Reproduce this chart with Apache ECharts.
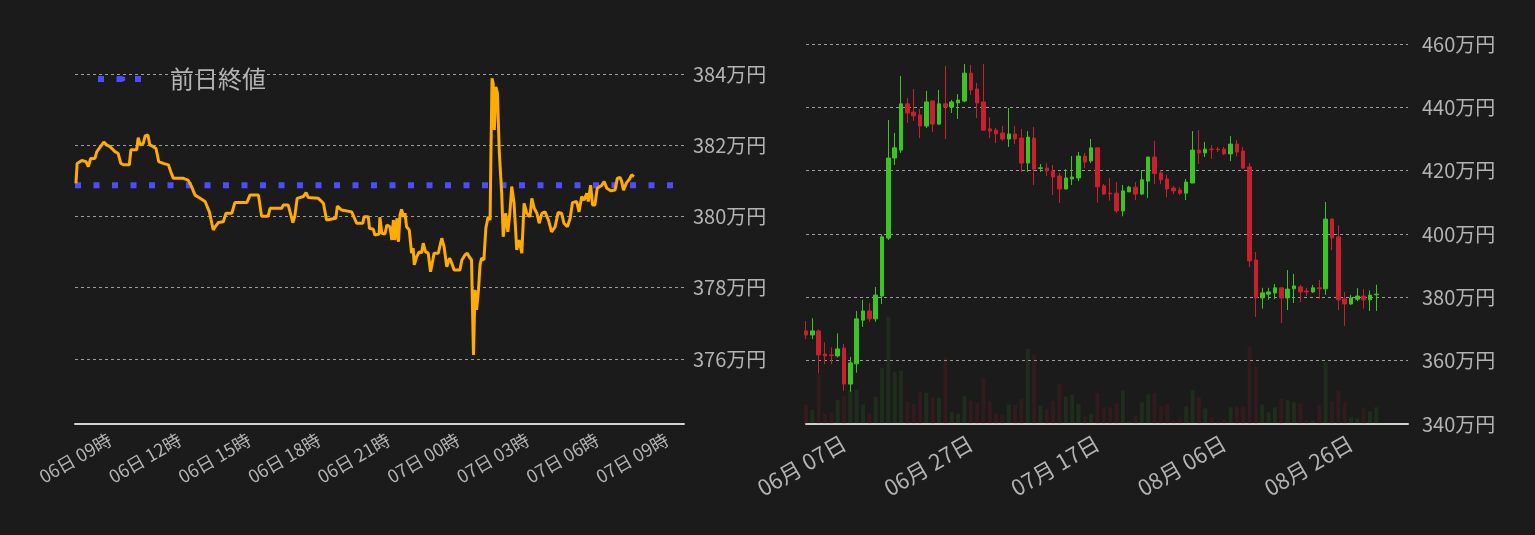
<!DOCTYPE html>
<html><head><meta charset="utf-8">
<script src="https://cdn.jsdelivr.net/npm/echarts@6/dist/echarts.min.js"></script>
<style>html,body{margin:0;padding:0;background:#1b1b1b}#c{width:1535px;height:535px}</style>
</head><body><div id="c"></div>
<script>
// ---- Intraday (left) : minutes since 06日 00:00, price in 万円 ----
const intradayMinutes = [452,455,467,478,484,490,501,506,514,524,531,540,553,561,568,576,590,594,609,613,618,626,631,638,643,652,659,666,678,691,697,704,730,742,751,760,773,786,797,807,812,820,833,840,855,863,894,902,924,932,949,954,984,988,1001,1013,1018,1024,1040,1047,1053,1079,1092,1100,1124,1128,1139,1165,1178,1194,1197,1208,1211,1221,1225,1236,1238,1243,1251,1256,1264,1269,1273,1277,1282,1286,1290,1294,1299,1303,1307,1314,1320,1324,1327,1333,1340,1346,1350,1356,1363,1369,1375,1378,1389,1398,1404,1411,1418,1424,1430,1445,1450,1458,1464,1469,1475,1480,1484,1488,1493,1497,1501,1507,1512,1518,1523,1525,1528,1531,1534,1538,1542,1547,1553,1557,1563,1569,1574,1579,1585,1592,1598,1605,1611,1618,1626,1631,1637,1644,1650,1657,1665,1674,1682,1691,1699,1708,1714,1723,1730,1736,1747,1753,1760,1766,1773,1777,1783,1788,1794,1800,1812,1818,1825,1835,1846,1852,1859,1863,1868,1876,1883,1889,1895];
const intradayPrices = [380.93,381.49,381.57,381.54,381.40,381.63,381.63,381.82,381.94,382.09,382.01,381.96,381.82,381.77,381.49,381.45,381.45,381.87,381.87,382.21,382.01,382.05,382.26,382.29,382.01,381.96,381.91,381.54,381.49,381.45,381.26,381.07,381.07,381.02,380.84,380.60,380.51,380.42,380.13,379.62,379.71,379.83,379.85,380.09,380.09,380.39,380.39,380.60,380.60,380.01,380.01,380.23,380.23,380.32,380.32,379.83,380.01,380.51,380.56,380.67,380.53,380.51,380.37,379.90,379.95,380.29,380.18,380.13,379.81,379.81,379.99,379.99,379.67,379.64,379.48,379.51,379.98,379.53,379.51,379.76,379.71,379.34,379.90,379.34,379.95,379.29,380.04,380.20,379.99,380.09,379.71,379.62,378.97,379.11,378.64,378.87,379.01,378.98,379.25,379.01,378.97,378.45,378.78,378.97,378.97,379.39,379.15,378.59,378.83,378.69,378.50,378.50,378.78,378.92,378.97,378.87,378.78,376.11,377.94,377.38,377.94,378.64,378.83,378.78,379.67,379.99,379.90,381.59,383.88,383.74,382.43,383.64,383.46,381.77,380.65,379.43,380.09,379.57,380.09,380.84,380.37,379.06,379.34,378.97,380.37,380.09,379.99,380.51,380.23,380.09,379.81,380.09,380.13,379.90,379.57,379.71,380.11,380.09,379.81,379.71,379.95,380.39,380.42,380.13,380.56,380.46,380.65,380.42,380.88,380.32,380.32,380.79,380.88,380.98,380.79,380.72,380.74,381.07,381.10,381.00,380.74,380.95,381.04,381.17,381.12];
const prevClose = 380.88;
const intradayTickMinutes = [540,720,900,1080,1260,1440,1620,1800,1980];
const leftPriceTicks = [376,378,380,382,384];

// ---- Daily (right) ----
const dailyDates = ['06-01','06-02','06-03','06-04','06-05','06-06','06-07','06-08','06-09','06-10','06-11','06-12','06-13','06-14','06-15','06-16','06-17','06-18','06-19','06-20','06-21','06-22','06-23','06-24','06-25','06-26','06-27','06-28','06-29','06-30',
'07-01','07-02','07-03','07-04','07-05','07-06','07-07','07-08','07-09','07-10','07-11','07-12','07-13','07-14','07-15','07-16','07-17','07-18','07-19','07-20','07-21','07-22','07-23','07-24','07-25','07-26','07-27','07-28','07-29','07-30','07-31',
'08-01','08-02','08-03','08-04','08-05','08-06','08-07','08-08','08-09','08-10','08-11','08-12','08-13','08-14','08-15','08-16','08-17','08-18','08-19','08-20','08-21','08-22','08-23','08-24','08-25','08-26','08-27','08-28','08-29','08-30'];
const dailyOpen  = [369.4,368.1,369.4,362.1,361.8,361.5,364.0,352.6,359.0,372.8,375.7,373.2,380.4,398.7,424.0,426.5,441.1,438.5,437.6,434.1,442.0,434.7,441.1,440.1,441.4,442.0,450.8,445.8,441.7,433.2,432.8,431.9,430.0,431.6,430.3,422.4,430.3,420.7,420.8,419.9,418.3,414.2,417.4,417.7,424.6,423.1,427.2,415.2,412.9,412.9,407.3,413.3,414.8,412.6,416.7,424.3,419.3,417.4,414.5,413.9,412.9,416.1,426.5,425.6,426.8,426.8,426.8,425.3,428.4,426.2,421.2,391.8,379.8,381.0,381.4,383.0,379.8,382.7,383.3,382.0,381.7,383.0,382.7,404.7,399.1,379.5,377.9,379.4,380.4,379.2,380.8];
const dailyClose = [368.1,369.4,361.8,361.5,361.6,363.7,352.6,359.3,373.2,375.7,373.2,380.7,399.1,424.0,427.2,441.1,438.2,437.3,434.1,441.7,434.7,441.1,440.1,441.7,442.3,450.8,445.5,441.4,432.8,432.5,431.6,430.0,431.6,430.0,422.4,430.6,420.5,420.9,419.9,418.0,414.2,417.7,418.0,424.6,422.7,427.2,414.9,412.6,412.7,407.3,413.6,414.8,412.6,417.1,424.3,419.1,417.1,414.2,413.6,412.9,416.4,426.5,425.6,426.8,426.6,426.6,425.3,428.4,425.9,420.8,391.5,379.8,381.4,381.7,383.0,379.8,382.6,383.6,381.7,381.7,383.0,382.7,404.7,398.7,379.2,377.9,379.8,380.4,379.2,380.7,381.0];
const dailyLow   = [366.8,366.8,356.0,358.9,358.9,361.0,350.5,350.2,356.2,370.7,372.3,372.3,377.9,398.1,421.8,425.6,435.1,435.7,430.3,433.5,432.2,434.4,430.0,438.2,436.3,441.7,443.9,436.6,432.8,430.3,428.7,429.4,427.5,428.4,419.6,419.6,415.5,419.6,418.3,412.3,409.8,414.2,415.5,416.7,420.8,422.4,409.9,412.3,410.5,406.6,405.6,413.3,410.7,412.3,411.4,415.8,415.8,411.6,412.6,412.3,410.7,416.1,422.1,424.3,423.7,425.9,424.9,423.0,424.6,420.8,389.6,373.8,376.4,379.2,379.4,371.9,376.0,378.2,378.5,380.4,381.4,379.5,380.8,394.9,376.0,371.0,377.6,378.8,376.4,375.7,375.7];
const dailyHigh  = [372.5,373.4,369.9,365.8,364.2,368.6,365.3,361.2,375.7,379.2,378.2,383.3,399.9,436.0,431.9,449.9,443.0,445.8,439.5,445.2,442.0,445.5,453.1,442.3,444.2,453.7,453.4,447.7,453.7,436.9,433.5,434.1,439.8,434.1,433.2,432.5,433.8,422.1,422.4,421.8,419.3,420.5,424.6,425.9,425.6,430.0,427.2,415.8,417.7,416.4,415.5,415.2,416.4,420.2,424.3,429.4,420.2,418.7,415.2,414.8,417.4,432.5,432.8,429.1,428.1,427.5,427.5,430.9,429.7,427.5,422.4,394.3,383.0,383.0,384.2,383.3,388.6,387.4,383.9,383.0,383.9,385.5,410.1,405.0,402.8,381.7,380.8,382.9,382.6,382.2,384.0];
const dailyVolume = [19.3,14.3,50,10.3,11.3,24.3,28.3,34.3,34.3,19.3,10.3,27.3,56.3,107.3,52.3,53.3,22.3,20.3,32.3,31.3,27.3,26.3,66.3,12.3,10.3,28.3,23.3,21.3,46.3,23.3,10.3,9.3,19.3,19.3,25.3,75.3,69.3,18.3,15.3,23.3,40.3,27.3,29.3,20.3,7.3,10.3,31.3,
16.7,16.7,20.7,33.7,2.7,8.7,21.7,29.7,30.7,17.7,19.7,3.7,5.7,17.7,33.7,26.7,15.7,6.7,2.7,4.7,16.7,17.7,17.7,77.7,57.7,19.7,11.7,16.7,25.7,23.7,21.7,20.7,3.7,3.7,18.7,61.7,22.7,33.7,22.7,6.7,5.7,15.7,12.7,16.7];
const rightPriceMin = 340, rightPriceMax = 460, rightPriceStep = 20;

const UP = '#3cc423', DOWN = '#c8202c';
const TXT = '#b3b3b3';
const FONT = '"Noto Sans CJK JP", "Noto Sans", sans-serif';
const gridLineStyle = {color: '#9c9c9c', width: 1, type: [3, 3]};

const chart = echarts.init(document.getElementById('c'), null, {renderer: 'canvas'});
const pad = n => String(n).padStart(2, '0');

chart.setOption({
  backgroundColor: '#1b1b1b',
  animation: false,
  textStyle: {fontFamily: FONT},
  legend: {
    data: ['前日終値'], left: 90, top: 62, itemWidth: 50, itemHeight: 6,
    textStyle: {color: TXT, fontSize: 24, fontFamily: FONT, padding: [0, 0, 0, 17]},
    lineStyle: {width: 6, type: [6, 12.5], cap: 'butt'}
  },
  grid: [
    {left: 75, right: 851, top: 44, bottom: 111},
    {left: 806, right: 127, top: 44, bottom: 111}
  ],
  xAxis: [
    {type: 'value', gridIndex: 0, min: 449.5, max: 2024.5,
     axisLine: {lineStyle: {color: '#d2d2d2', width: 2}}, axisTick: {show: false}, splitLine: {show: false},
     axisLabel: {customValues: intradayTickMinutes, rotate: 30, color: TXT, fontSize: 18, margin: 14,
       formatter: v => pad(Math.floor(v / 1440) + 6) + '日 ' + pad(Math.floor(v % 1440 / 60)) + '時'}},
    {type: 'category', gridIndex: 1, data: dailyDates, boundaryGap: false, max: 95,
     axisLine: {lineStyle: {color: '#d2d2d2', width: 2}}, axisTick: {show: false}, splitLine: {show: false},
     axisLabel: {interval: i => (i - 6) % 20 === 0, rotate: 30, color: TXT, fontSize: 22, margin: 17,
       formatter: v => v ? v.slice(0, 2) + '月 ' + v.slice(3) + '日' : ''}}
  ],
  yAxis: [
    {type: 'value', gridIndex: 0, position: 'right', min: 374.175, max: 384.842,
     axisLine: {show: false}, axisTick: {show: false, customValues: leftPriceTicks},
     splitLine: {show: true, lineStyle: gridLineStyle},
     axisLabel: {customValues: leftPriceTicks, color: TXT, fontSize: 20, margin: 9, formatter: v => v + '万円'}},
    {type: 'value', gridIndex: 1, position: 'right', min: rightPriceMin, max: rightPriceMax, interval: rightPriceStep,
     axisLine: {show: false}, axisTick: {show: false},
     splitLine: {show: true, lineStyle: gridLineStyle},
     axisLabel: {color: TXT, fontSize: 20, margin: 14, formatter: v => v + '万円'}},
    {type: 'value', gridIndex: 1, min: 0, max: 380, show: false}
  ],
  series: [
    {name: '価格', type: 'line', xAxisIndex: 0, yAxisIndex: 0, symbol: 'none',
     data: intradayMinutes.map((m, i) => [m, intradayPrices[i]]),
     lineStyle: {color: '#ffab00', width: 3}, z: 3},
    {name: '前日終値', type: 'line', xAxisIndex: 0, yAxisIndex: 0, symbol: 'none',
     data: [[449.5, prevClose], [2024.5, prevClose]],
     itemStyle: {color: '#4d4dff'},
     lineStyle: {color: '#4d4dff', width: 6, type: [6, 12.5], cap: 'butt'}, z: 2},
    {name: '出来高', type: 'bar', xAxisIndex: 1, yAxisIndex: 2, barWidth: 4,
     data: dailyVolume.map((v, i) => ({value: v, itemStyle: {color: dailyClose[i] >= dailyOpen[i] ? 'rgba(60,196,35,0.11)' : 'rgba(200,32,44,0.13)'}})),
     z: 1},
    {name: '日足', type: 'candlestick', xAxisIndex: 1, yAxisIndex: 1, barWidth: 4,
     data: dailyOpen.map((o, i) => [o, dailyClose[i], dailyLow[i], dailyHigh[i]]),
     itemStyle: {color: UP, color0: DOWN, borderColor: UP, borderColor0: DOWN, borderWidth: 1}, z: 3}
  ]
});
</script></body></html>
